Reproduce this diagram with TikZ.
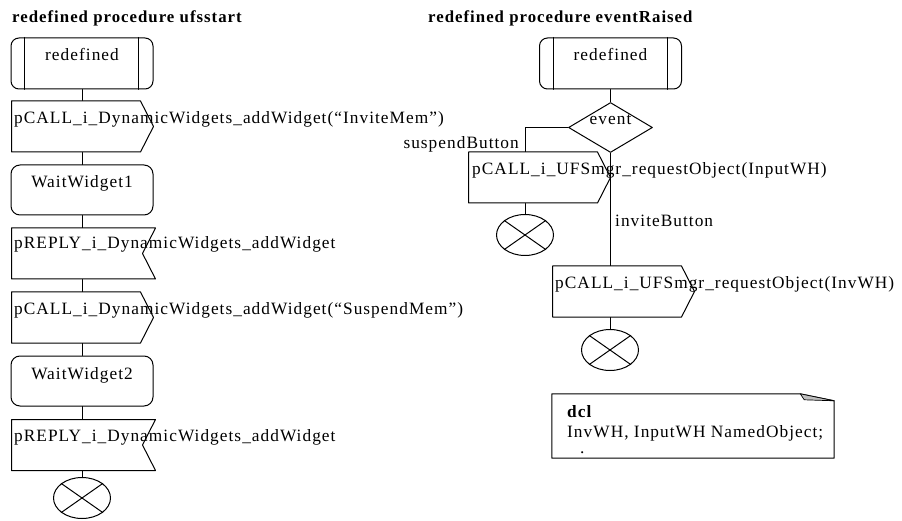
\documentclass[tikz,border=0pt]{standalone}
\usepackage{fontspec}
\setmainfont{Liberation Serif}
\newfontfamily\sdlfont[LetterSpace=6]{Liberation Serif}
\usetikzlibrary{shapes.geometric,shapes.symbols}

\tikzset{
  flow/.style={line width=1pt},
  sdl/.style={draw,flow,inner sep=0pt},
  startbox/.style={sdl,rectangle,rounded corners=8,minimum width=142,minimum height=51},
  statebox/.style={sdl,rectangle,rounded corners=9,minimum width=142,minimum height=50},
  outbox/.style={sdl,signal,signal to=east,signal from=nowhere,signal pointer angle=126,minimum width=142,minimum height=51},
  inbox/.style={sdl,signal,signal to=nowhere,signal from=east,signal pointer angle=126,minimum width=144,minimum height=51},
  decision/.style={sdl,diamond,minimum width=84,minimum height=50},
  stopnode/.style={sdl,ellipse,minimum width=57,minimum height=41},
  txt/.style={inner sep=0pt,anchor=base},
  ltxt/.style={inner sep=0pt,anchor=base west},
  title/.style={inner sep=0pt,anchor=base west,font=\sdlfont\bfseries\fontsize{16.8}{20}\selectfont}
}

\begin{document}
\begin{tikzpicture}[line cap=round,line join=round,x=1pt,y=-1pt,font=\sdlfont\fontsize{17.3}{20}\selectfont]
\useasboundingbox (0,0) rectangle (902,521);

% titles
\node[title] (t1) at (12,23) {redefined procedure ufsstart};
\node[title] (t2) at (428,23) {redefined procedure eventRaised};

% procedure ufsstart
\node[startbox] (s1) at (82,63.5) {};
\node[txt] (s1t) at (82,61) {redefined};
\node[outbox,anchor=west] (o1) at (11,126.5) {};
\node[ltxt] (o1t) at (14,124) {pCALL\_i\_DynamicWidgets\_addWidget(“InviteMem”)};
\node[statebox] (w1) at (82,190) {};
\node[txt] (w1t) at (82,188) {WaitWidget1};
\node[inbox,anchor=west] (i1) at (11,253.5) {};
\node[ltxt] (i1t) at (14,249) {pREPLY\_i\_DynamicWidgets\_addWidget};
\node[outbox,anchor=west] (o2) at (11,317.5) {};
\node[ltxt] (o2t) at (14,315) {pCALL\_i\_DynamicWidgets\_addWidget(“SuspendMem”)};
\node[statebox] (w2) at (82,381) {};
\node[txt] (w2t) at (82,379) {WaitWidget2};
\node[inbox,anchor=west] (i2) at (11,445) {};
\node[ltxt] (i2t) at (14,441) {pREPLY\_i\_DynamicWidgets\_addWidget};
\node[stopnode] (e1) at (82,498) {};

\foreach \a/\b in {s1/o1,o1/w1,w1/i1,i1/o2,o2/w2,w2/i2,i2/e1}
  \draw[flow] (\a.south -| w1) -- (\b.north -| w1);

% procedure eventRaised
\node[startbox] (s2) at (610.5,63.5) {};
\node[txt] (s2t) at (610.5,61) {redefined};
\node[decision] (d1) at (610.5,127.5) {};
\node[txt] (d1t) at (610.5,125) {event};
\node[outbox,anchor=west] (o3) at (468,177.5) {};
\node[ltxt] (o3t) at (472,175) {pCALL\_i\_UFSmgr\_requestObject(InputWH)};
\node[stopnode] (e3) at (525,235) {};
\node[outbox,anchor=west] (o4) at (552,291.5) {};
\node[ltxt] (o4t) at (555,289) {pCALL\_i\_UFSmgr\_requestObject(InvWH)};
\node[stopnode] (e4) at (610,350) {};

\node[ltxt,anchor=base east] (l1) at (519,149) {suspendButton};
\node[ltxt] (l2) at (615,227) {inviteButton};

\draw[flow] (s2.south) -- (d1.north);
\draw[flow] (d1.west) -| (e3.north |- o3.north);
\draw[flow] (e3.north |- o3.south) -- (e3.north);
\draw[flow] (d1.south) -- (d1.south |- o4.north);
\draw[flow] (e4.north |- o4.south) -- (e4.north);

% start symbols and stop crosses
\foreach \s in {s1,s2}
  \draw[flow] ([xshift=14]\s.north west) -- ([xshift=14]\s.south west)
    ([xshift=-15]\s.north east) -- ([xshift=-15]\s.south east);
\foreach \s in {e1,e3,e4}
  \draw[flow] (\s.35) -- (\s.215) (\s.145) -- (\s.325);

% declarations
\node[inner sep=0pt,minimum width=282,minimum height=64] (dcl) at (693,426) {};
\draw[flow] (dcl.north west) -- ([xshift=-34]dcl.north east) -- ([yshift=-7]dcl.north east)
  -- (dcl.south east) -- (dcl.south west) -- cycle;
\filldraw[fill=gray!50,line width=0.7pt] ([xshift=-34]dcl.north east) -- ([xshift=-30,yshift=-6]dcl.north east)
  -- ([yshift=-7]dcl.north east) -- cycle;
\node[ltxt,font=\sdlfont\bfseries\fontsize{17.3}{20}\selectfont] (dclk) at (567,417) {dcl};
\node[ltxt] (dclt) at (567,437) {InvWH, InputWH NamedObject;};
\node[ltxt] (dcld) at (580,453) {.};
\end{tikzpicture}
\end{document}
